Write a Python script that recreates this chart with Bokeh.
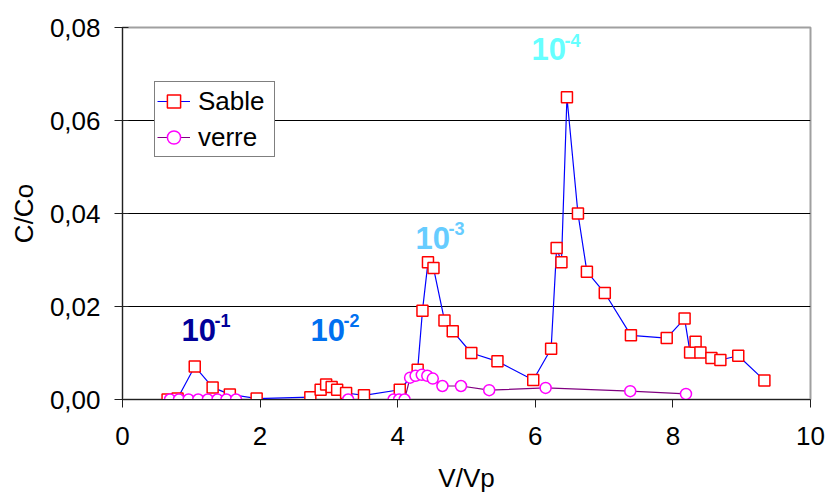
from bokeh.plotting import figure
from bokeh.models import (Range1d, FixedTicker, CustomJSTickFormatter, Legend,
                          LegendItem, Label)
from bokeh.embed import file_html
from bokeh.resources import INLINE

# ---- data ----
sable_x = [0.655, 0.80, 1.05, 1.31, 1.56, 1.95, 2.73, 2.88, 2.96, 3.04, 3.12, 3.25,
           3.51, 4.03, 4.29, 4.36, 4.44, 4.52, 4.68, 4.80, 5.07, 5.45, 5.97, 6.23,
           6.31, 6.38, 6.46, 6.62, 6.75, 7.01, 7.39, 7.91, 8.17, 8.25, 8.33, 8.40,
           8.56, 8.69, 8.95, 9.33]
sable_y = [0.0000, 0.0002, 0.0071, 0.0026, 0.0011, 0.0002, 0.0005, 0.0021, 0.0032,
           0.0027, 0.0021, 0.0014, 0.0009, 0.0021, 0.0064, 0.0191, 0.0295, 0.0283,
           0.0170, 0.0147, 0.0100, 0.0082, 0.0042, 0.0109, 0.0326, 0.0295, 0.0650,
           0.0400, 0.0275, 0.0229, 0.0138, 0.0132, 0.0174, 0.0101, 0.0124, 0.0101,
           0.0089, 0.0085, 0.0094, 0.0041]

verre_x = [0.69, 0.82, 0.96, 1.10, 1.24, 1.38, 1.51, 1.65, 3.28, 3.94, 4.02, 4.10,
           4.18, 4.26, 4.35, 4.43, 4.51, 4.65, 4.92, 5.33, 6.15, 7.38, 8.19]
verre_y = [0.0, 0.0, 0.0, 0.0, 0.0, 0.0, 0.0, 0.0, 0.0, 0.0, 0.0, 0.0,
           0.0047, 0.0051, 0.0053, 0.0051, 0.0045, 0.0029, 0.0029, 0.0020, 0.0025,
           0.0018, 0.0012]

x_ticks = [0, 2, 4, 6, 8, 10]
y_ticks = [0.0, 0.02, 0.04, 0.06, 0.08]

# peak annotations "10^exp": exponent, anchor x, anchor y (baseline), colour
ann_exp = ["-1", "-2", "-3", "-4"]
ann_x = [0.858, 2.733, 4.259, 5.945]
ann_y = [0.0124, 0.0124, 0.0322, 0.0727]
ann_col = ["#000099", "#0070F0", "#66CCFF", "#66FFFF"]

FONT = "Liberation Sans"

p = figure(width=828, height=495, x_range=Range1d(0, 10), y_range=Range1d(0, 0.08),
           output_backend="svg", toolbar_location=None,
           min_border_left=122, min_border_right=18, min_border_top=27,
           min_border_bottom=95, background_fill_color="white",
           border_fill_color="white")

p.outline_line_color = "#A0A0A0"
p.outline_line_width = 2
p.xgrid.visible = False
p.ygrid.ticker = FixedTicker(ticks=y_ticks)
p.ygrid.grid_line_color = "black"
p.ygrid.grid_line_width = 1

p.xaxis.ticker = FixedTicker(ticks=x_ticks)
p.yaxis.ticker = FixedTicker(ticks=y_ticks)
p.yaxis.formatter = CustomJSTickFormatter(code="return tick.toFixed(2).replace('.', ',');")
p.xaxis.formatter = CustomJSTickFormatter(code="return tick.toFixed(0);")

for ax in (p.xaxis, p.yaxis):
    ax.minor_tick_line_color = None
    ax.axis_line_color = "#202020"
    ax.major_tick_line_color = "#202020"
    ax.major_label_text_font = FONT
    ax.major_label_text_font_size = "26px"
    ax.major_label_text_color = "black"
    ax.axis_label_text_font = FONT
    ax.axis_label_text_font_size = "26px"
    ax.axis_label_text_font_style = "normal"
    ax.axis_label_text_color = "black"

p.xaxis.axis_label = "V/Vp"
p.yaxis.axis_label = "C/Co"
p.xaxis.major_tick_out = 8
p.xaxis.major_tick_in = 0
p.yaxis.major_tick_out = 8
p.yaxis.major_tick_in = 6
p.xaxis.major_label_standoff = 19
p.yaxis.major_label_standoff = 14
p.xaxis.axis_label_standoff = 15
p.yaxis.axis_label_standoff = 8

# series
l1 = p.line(sable_x, sable_y, line_color="#0000FF", line_width=1.2)
s1 = p.scatter(sable_x, sable_y, marker="square", size=11, line_color="#FF0000",
               fill_color="white", line_width=1.5)
l2 = p.line(verre_x, verre_y, line_color="#800080", line_width=1.2)
s2 = p.scatter(verre_x, verre_y, marker="circle", size=11, line_color="#FF00FF",
               fill_color="white", line_width=1.5)

legend = Legend(items=[LegendItem(label="Sable", renderers=[l1, s1]),
                       LegendItem(label="verre", renderers=[l2, s2])],
                location=(32, 242), orientation="vertical", margin=0, padding=2,
                spacing=2, glyph_width=33, glyph_height=34, label_height=34,
                label_width=74, label_standoff=8, label_text_font=FONT,
                label_text_font_size="26px", label_text_color="black",
                border_line_color="black", border_line_width=1.5,
                background_fill_color="white", background_fill_alpha=1.0)
p.add_layout(legend)

for ex, ax_, ay_, col in zip(ann_exp, ann_x, ann_y, ann_col):
    p.add_layout(Label(x=ax_, y=ay_, y_offset=12, text="10", text_font=FONT,
                       text_font_size="31px", text_font_style="bold", text_color=col,
                       text_align="left", text_baseline="alphabetic"))
    p.add_layout(Label(x=ax_, y=ay_, x_offset=33, y_offset=21, text=ex, text_font=FONT,
                       text_font_size="18px", text_font_style="bold", text_color=col,
                       text_align="left", text_baseline="alphabetic"))

open("out.html", "w").write(file_html(p, INLINE))
